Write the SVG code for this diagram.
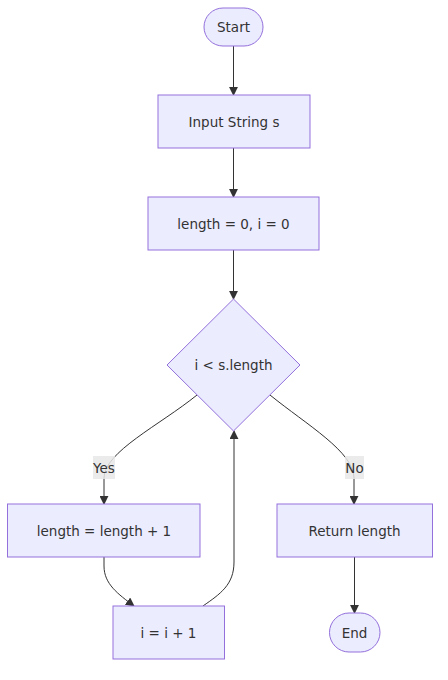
<svg xmlns="http://www.w3.org/2000/svg" width="448" height="680" viewBox="0 0 448 680">
<style>
.node{fill:#ECECFF;stroke:#9370DB;stroke-width:1}
.lbl{font-family:"DejaVu Sans",Verdana,sans-serif;font-size:13.5px;fill:#333;text-anchor:middle;dominant-baseline:central}
.edge{fill:none;stroke:#333;stroke-width:1}
.elbg{fill:#E8E8E8;opacity:0.85}
</style>
<defs>
<marker id="arr" viewBox="0 0 10 10" refX="9" refY="5" markerWidth="9" markerHeight="9" markerUnits="userSpaceOnUse" orient="auto">
<path d="M0,0 L10,5 L0,10 z" fill="#333"/>
</marker>
</defs>
<rect width="448" height="680" fill="#fff"/>
<g id="edges">
<path class="edge" d="M233.5,46 L233.5,95" marker-end="url(#arr)"/>
<path class="edge" d="M233.5,148 L233.5,197" marker-end="url(#arr)"/>
<path class="edge" d="M233.5,250 L233.5,299" marker-end="url(#arr)"/>
<path class="edge" d="M197,395 C160,425 104,452 104,478 L104,504" marker-end="url(#arr)"/>
<path class="edge" d="M270,395 C307,425 354,452 354,478 L354,504" marker-end="url(#arr)"/>
<path class="edge" d="M104,557 L104,566 C104,584 118,594 134,606" marker-end="url(#arr)"/>
<path class="edge" d="M203,606 C220,594 234,585 234,562 L234,431" marker-end="url(#arr)"/>
<path class="edge" d="M354.5,557 L354.5,613" marker-end="url(#arr)"/>
</g>
<g id="yes-label">
<rect class="elbg" x="93" y="456" width="22" height="23"/>
<text class="lbl" x="104" y="467.5">Yes</text>
</g>
<g id="no-label">
<rect class="elbg" x="345" y="456" width="19" height="23"/>
<text class="lbl" x="354.5" y="467.5">No</text>
</g>
<g id="start">
<rect class="node" x="204" y="8" width="59" height="38" rx="19" ry="19"/>
<text class="lbl" x="233.5" y="27">Start</text>
</g>
<g id="input">
<rect class="node" x="158" y="95" width="152" height="53"/>
<text class="lbl" x="234" y="121.5">Input String s</text>
</g>
<g id="init">
<rect class="node" x="148" y="197" width="171" height="53"/>
<text class="lbl" x="233.5" y="223.5">length = 0, i = 0</text>
</g>
<g id="cond">
<polygon class="node" points="233.5,299 300,365 233.5,431 167,365"/>
<text class="lbl" x="233.5" y="365">i &lt; s.length</text>
</g>
<g id="inc-length">
<rect class="node" x="7.5" y="504" width="192.5" height="53"/>
<text class="lbl" x="104" y="530.5">length = length + 1</text>
</g>
<g id="return">
<rect class="node" x="277" y="504" width="155.5" height="53"/>
<text class="lbl" x="354.5" y="530.5">Return length</text>
</g>
<g id="inc-i">
<rect class="node" x="113" y="606" width="111.5" height="53"/>
<text class="lbl" x="168.5" y="632.5">i = i + 1</text>
</g>
<g id="end">
<rect class="node" x="329.5" y="613" width="50.5" height="39" rx="19.5" ry="19.5"/>
<text class="lbl" x="354.5" y="632.5">End</text>
</g>
</svg>
